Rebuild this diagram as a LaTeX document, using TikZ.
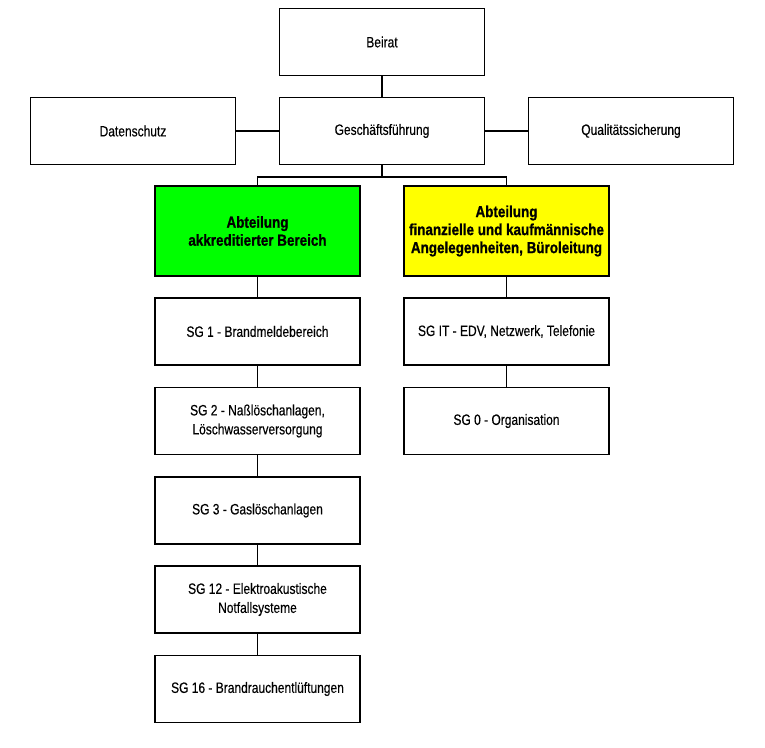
\documentclass[tikz,border=0pt]{standalone}
\usepackage{fontspec}
\setmainfont[FakeStretch=0.8,FakeBold=0.3,BoldFeatures={FakeStretch=0.84,FakeBold=0.9}]{Liberation Sans}
\usepackage{xcolor}
\usepackage{tikz}
\usetikzlibrary{positioning,calc}

\definecolor{abtgreen}{RGB}{0,255,0}
\definecolor{abtyellow}{RGB}{255,255,0}

\begin{document}
\begin{tikzpicture}[
    x=1pt, y=-1pt,
    box/.style={rectangle, draw, line width=1.8pt, fill=white, minimum width=205pt, minimum height=67pt,
        align=center, inner sep=0pt, font=\fontsize{15}{19}\selectfont},
    abt/.style={box, minimum height=90pt, font=\fontsize{16}{18}\selectfont\bfseries},
    line/.style={line width=1.8pt}
]
    \useasboundingbox (0,0) rectangle (765,747);

    \node[box] (beirat) at (382,42) {Beirat};
    \node[box] (gf) at (382,131) {Geschäftsführung};
    \node[box] (ds) at (133,131) {Datenschutz};
    \node[box] (qs) at (631,131) {Qualitätssicherung};

    \node[abt, fill=abtgreen] (akk) at (257.5,231) {Abteilung\\akkreditierter Bereich};
    \node[abt, fill=abtyellow] (fin) at (506.5,231) {Abteilung\\finanzielle und kaufmännische\\Angelegenheiten, Büroleitung};

    \node[box] (sg1) at (257.5,331.5) {SG 1 - Brandmeldebereich};
    \node[box] (sg2) at (257.5,421) {SG 2 - Naßlöschanlagen,\\Löschwasserversorgung};
    \node[box] (sg3) at (257.5,510.5) {SG 3 - Gaslöschanlagen};
    \node[box] (sg12) at (257.5,599.5) {SG 12 - Elektroakustische\\Notfallsysteme};
    \node[box] (sg16) at (257.5,689) {SG 16 - Brandrauchentlüftungen};

    \node[box] (sgit) at (506.5,331.5) {SG IT - EDV, Netzwerk, Telefonie};
    \node[box] (sg0) at (506.5,421) {SG 0 - Organisation};

    \draw[line] (beirat) -- (gf);
    \draw[line] (ds) -- (gf);
    \draw[line] (gf) -- (qs);
    \coordinate (bus) at ($(gf.south)+(0,11.5)$);
    \draw[line] (gf.south) -- (bus);
    \draw[line] (akk.north) |- (bus) -| (fin.north);

    \draw[line] (akk) -- (sg1);
    \draw[line] (sg1) -- (sg2);
    \draw[line] (sg2) -- (sg3);
    \draw[line] (sg3) -- (sg12);
    \draw[line] (sg12) -- (sg16);
    \draw[line] (fin) -- (sgit);
    \draw[line] (sgit) -- (sg0);
\end{tikzpicture}
\end{document}
